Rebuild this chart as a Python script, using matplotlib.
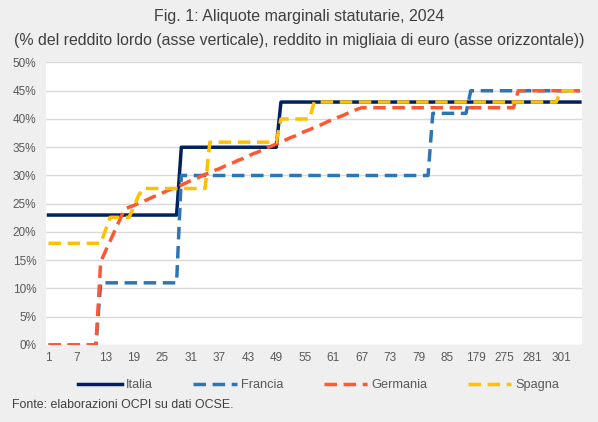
import numpy as np
import matplotlib
matplotlib.use('Agg')
import matplotlib.pyplot as plt

# income in thousands of euro (category axis, one point per category)
redditi = list(range(1, 90)) + [178, 179, 180, 181, 182, 183, 184,
                                275, 276, 277, 278, 279, 280, 281,
                                285, 289, 293, 297, 299, 301,
                                302, 303, 304, 305]

# marginal rates (%)
italia = [23] * 28 + [35] * 21 + [43] * 64
francia = [0] * 11 + [11] * 17 + [30] * 53 + [41] * 8 + [45] * 24
germania = ([0] * 11 +
            [14.7, 16.6, 18.4, 20.3, 22.1, 24.0,
             24.4, 24.7, 25.1, 25.4, 25.8, 26.2, 26.5, 26.9, 27.3, 27.6,
             28.0, 28.3, 28.7, 29.1, 29.4, 29.8, 30.2, 30.5, 30.9, 31.2,
             31.6, 32.0, 32.3, 32.7, 33.0, 33.4, 33.8, 34.1, 34.5, 34.9,
             35.2, 35.6, 35.9, 36.3, 36.7, 37.0, 37.4, 37.8, 38.1, 38.5,
             38.8, 39.2, 39.6, 39.9, 40.3, 40.6, 41.0, 41.4, 41.7] +
            [42] * 33 + [45] * 14)
spagna = ([18] * 12 + [20.3] + [22.6] * 5 + [24.5, 26.5] + [27.7] * 14 +
          [35.9] * 15 + [40] * 7 + [43] * 52 + [45] * 5)

serie = [
    ('Italia', italia, '#002060', '-'),
    ('Francia', francia, '#2E75B6', '--'),
    ('Germania', germania, '#FF5733', '--'),
    ('Spagna', spagna, '#FFC000', '--'),
]

FONT = 'Liberation Sans'
GREY = '#595959'
plt.rcParams['font.family'] = FONT

fig = plt.figure(figsize=(5.98, 4.22), dpi=100)
fig.patch.set_facecolor('#EFEFEF')
ax = fig.add_axes([0.0771, 0.1825, 0.8966, 0.6694])
ax.set_facecolor('white')

x = np.arange(len(redditi))
for nome, vals, col, ls in serie:
    ax.plot(x, vals, color=col, linestyle=ls, linewidth=2.5, label=nome,
            dashes=(3.6, 1.9) if ls == '--' else (None, None))

ax.set_xlim(-0.5, len(redditi) - 0.5)
ax.set_ylim(0, 50)
ax.set_yticks(np.arange(0, 51, 5))
ax.set_yticklabels([f'{v}%' for v in range(0, 51, 5)])
ax.set_xticks(x[::6])
ax.set_xticklabels([str(r) for r in redditi[::6]])
ax.grid(axis='y', color='#D9D9D9', linewidth=1)
ax.set_axisbelow(True)
for s in ax.spines.values():
    s.set_visible(False)
ax.tick_params(axis='both', length=0, labelsize=8.5, colors=GREY)
ax.tick_params(axis='y', pad=7)
ax.tick_params(axis='x', pad=5)

fig.text(0.5, 1 - 17 / 422, 'Fig. 1: Aliquote marginali statutarie, 2024',
         ha='center', va='center', fontsize=11.5, color='#404040')
fig.text(0.5, 1 - 40 / 422,
         '(% del reddito lordo (asse verticale), reddito in migliaia di euro (asse orizzontale))',
         ha='center', va='center', fontsize=11.4, color='#404040')

leg = fig.legend(loc='center', bbox_to_anchor=(0.533, 1 - 385 / 422), ncol=4,
                 frameon=False, fontsize=9.2, handlelength=3.4,
                 handletextpad=0.3, columnspacing=3.2, labelcolor=GREY)

fig.text(12 / 598, 1 - 405 / 422, 'Fonte: elaborazioni OCPI su dati OCSE.',
         ha='left', va='center', fontsize=8.9, color='#404040')

fig.savefig('out.png', dpi=100, facecolor=fig.get_facecolor())
